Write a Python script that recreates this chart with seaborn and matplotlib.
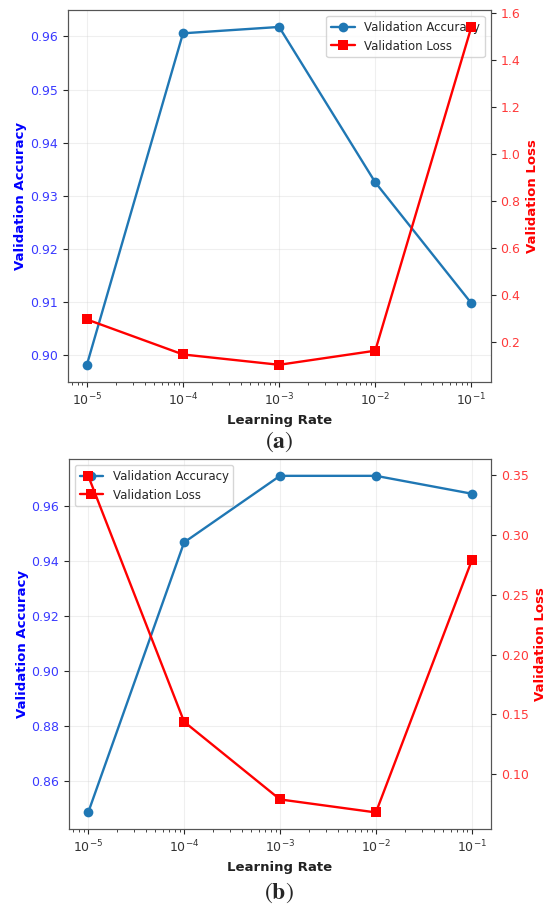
import matplotlib
matplotlib.use("Agg")
import matplotlib.pyplot as plt
import seaborn as sns
import pandas as pd

learning_rates = [1e-5, 1e-4, 1e-3, 1e-2, 1e-1]

acc_a = [0.8981, 0.9606, 0.9618, 0.9325, 0.9097]
loss_a = [0.295, 0.146, 0.102, 0.162, 1.540]

acc_b = [0.8485, 0.9467, 0.9709, 0.9709, 0.9644]
loss_b = [0.3497, 0.1438, 0.0788, 0.0679, 0.2789]

panel_labels = ["a", "b"]

sns.set_style("ticks")
plt.rcParams["font.family"] = ["DejaVu Sans"]
plt.rcParams["mathtext.fontset"] = "stix"

fig = plt.figure(figsize=(5.5, 9.14), dpi=100)
rects = [
    [0.123, 0.5824, 0.769, 0.4066],
    [0.1255, 0.0927, 0.7672, 0.4051],
]
legend_locs = ["upper right", "upper left"]
caption_y = [0.5164, 0.0230]

for i, (acc, loss) in enumerate([(acc_a, loss_a), (acc_b, loss_b)]):
    df = pd.DataFrame({"lr": learning_rates, "acc": acc, "loss": loss})
    ax1 = fig.add_axes(rects[i])
    sns.lineplot(data=df, x="lr", y="acc", ax=ax1, color="#1f77b4", marker="o",
                 markersize=7, linewidth=1.7, markeredgewidth=0,
                 label="Validation Accuracy", legend=False)
    ax1.set_xscale("log")
    ax1.set_xlabel("Learning Rate", fontsize=9.5, fontweight="bold", color="#222222")
    ax1.set_ylabel("Validation Accuracy", fontsize=9.5, fontweight="bold", color="blue",
                   labelpad=2)
    ax1.tick_params(axis="y", labelcolor="#3a3aff", labelsize=9)
    ax1.tick_params(axis="x", labelsize=9, labelcolor="#333333")
    ax1.grid(True, alpha=0.3)

    ax2 = ax1.twinx()
    sns.lineplot(data=df, x="lr", y="loss", ax=ax2, color="red", marker="s",
                 markersize=7, linewidth=1.7, markeredgewidth=0,
                 label="Validation Loss", legend=False)
    ax2.set_ylabel("Validation Loss", fontsize=9.5, fontweight="bold", color="red")
    ax2.tick_params(axis="y", labelcolor="#ff3a3a", labelsize=9)
    ax2.grid(False)

    for ax in (ax1, ax2):
        for sp in ax.spines.values():
            sp.set_visible(True)
            sp.set_color("#555555")

    h1, l1 = ax1.get_legend_handles_labels()
    h2, l2 = ax2.get_legend_handles_labels()
    ax1.legend(h1 + h2, l1 + l2, loc=legend_locs[i], fontsize=8.5)

    fig.text(0.5075, caption_y[i], "(" + r"$\mathbf{" + panel_labels[i] + "}$" + ")",
             ha="center", va="center", fontsize=17, family="STIXGeneral")

fig.savefig("out.png", dpi=100)
